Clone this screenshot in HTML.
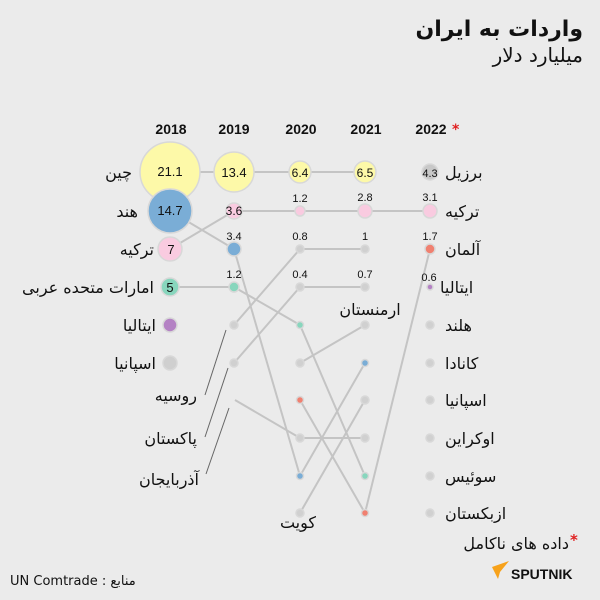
<!DOCTYPE html>
<html><head><meta charset="utf-8"><style>
html,body{margin:0;padding:0;background:#ebebeb}
svg{display:block}
text{font-family:"DejaVu Sans","Liberation Sans",sans-serif;fill:#111}
.yr{font-family:"Liberation Sans",sans-serif;font-weight:bold;font-size:14px;text-anchor:middle}
.v{font-family:"Liberation Sans",sans-serif;font-size:11px;text-anchor:middle}
.l{font-size:16px}
</style></head><body>
<svg width="600" height="600" viewBox="0 0 600 600">
<rect width="600" height="600" fill="#ebebeb"/>
<text x="583" y="36" text-anchor="end" font-size="22" font-weight="bold">واردات به ایران</text>
<text x="583" y="62" text-anchor="end" font-size="20">میلیارد دلار</text>
<text x="171" y="134" class="yr">2018</text><text x="234" y="134" class="yr">2019</text><text x="301" y="134" class="yr">2020</text><text x="366" y="134" class="yr">2021</text><text x="431" y="134" class="yr">2022</text>
<text x="452" y="134" style="fill:#e02020;font-size:14px;font-weight:bold">*</text>
<g stroke="#c4c4c4" stroke-width="2" fill="none">
<polyline points="170,172 234,172 300,172 365,172"/>
<polyline points="170,249 234,211 300,211 365,211 430,211"/>
<polyline points="170,211 234,249 300,476 365,363"/>
<polyline points="170,287 234,287 300,325 365,476"/>
<polyline points="234,325 300,249 365,249"/>
<polyline points="234,363 300,287 365,287"/>
<polyline points="235,400 300,438 365,438"/>
<polyline points="300,363 365,325"/>
<polyline points="300,513 365,400"/>
<polyline points="300,400 365,513 430,249"/>
</g>
<g stroke="#666" stroke-width="1">
<line x1="226" y1="330" x2="205" y2="395"/>
<line x1="228" y1="368" x2="205" y2="437"/>
<line x1="229" y1="408" x2="206" y2="474"/>
</g>
<g stroke="#d8d8d8" stroke-width="1.5">
<circle cx="170" cy="172" r="30" fill="#fdf9a8"/>
<circle cx="170" cy="211" r="22" fill="#7aadd6"/>
<circle cx="170" cy="249" r="12" fill="#f9cbe0"/>
<circle cx="170" cy="287" r="9" fill="#88d6bd"/>
<circle cx="170" cy="325" r="7" fill="#b482c4"/>
<circle cx="170" cy="363" r="7" fill="#cfcfcf"/>
<circle cx="234" cy="172" r="20" fill="#fdf9a8"/>
<circle cx="234" cy="211" r="8" fill="#f9cbe0"/>
<circle cx="234" cy="249" r="7" fill="#7aadd6"/>
<circle cx="234" cy="287" r="5" fill="#88d6bd"/>
<circle cx="234" cy="325" r="4" fill="#d0d0d0"/>
<circle cx="234" cy="363" r="4" fill="#d0d0d0"/>
<circle cx="300" cy="172" r="11" fill="#fdf9a8"/>
<circle cx="300" cy="211" r="5" fill="#f9cbe0"/>
<circle cx="300" cy="249" r="4" fill="#d0d0d0"/>
<circle cx="300" cy="287" r="4" fill="#d0d0d0"/>
<circle cx="300" cy="325" r="3.5" fill="#88d6bd"/>
<circle cx="300" cy="363" r="4" fill="#d0d0d0"/>
<circle cx="300" cy="400" r="3.5" fill="#f08070"/>
<circle cx="300" cy="438" r="4" fill="#d0d0d0"/>
<circle cx="300" cy="476" r="3.5" fill="#7aadd6"/>
<circle cx="300" cy="513" r="4" fill="#d0d0d0"/>
<circle cx="365" cy="172" r="11" fill="#fdf9a8"/>
<circle cx="365" cy="211" r="7" fill="#f9cbe0"/>
<circle cx="365" cy="249" r="4" fill="#d0d0d0"/>
<circle cx="365" cy="287" r="4" fill="#d0d0d0"/>
<circle cx="365" cy="325" r="4" fill="#d0d0d0"/>
<circle cx="365" cy="363" r="3.5" fill="#7aadd6"/>
<circle cx="365" cy="400" r="4" fill="#d0d0d0"/>
<circle cx="365" cy="438" r="4" fill="#d0d0d0"/>
<circle cx="365" cy="476" r="3.5" fill="#88d6bd"/>
<circle cx="365" cy="513" r="3.5" fill="#f08070"/>
<circle cx="430" cy="172" r="8" fill="#c8c8c8"/>
<circle cx="430" cy="211" r="7" fill="#f9cbe0"/>
<circle cx="430" cy="249" r="5" fill="#f08070"/>
<circle cx="430" cy="287" r="3" fill="#b482c4"/>
<circle cx="430" cy="325" r="4" fill="#d0d0d0"/>
<circle cx="430" cy="363" r="4" fill="#d0d0d0"/>
<circle cx="430" cy="400" r="4" fill="#d0d0d0"/>
<circle cx="430" cy="438" r="4" fill="#d0d0d0"/>
<circle cx="430" cy="476" r="4" fill="#d0d0d0"/>
<circle cx="430" cy="513" r="4" fill="#d0d0d0"/>
</g>
<g>
<text class="v" x="170" y="176" style="font-size:13px">21.1</text>
<text class="v" x="170" y="215" style="font-size:13px">14.7</text>
<text class="v" x="171" y="254" style="font-size:13px">7</text>
<text class="v" x="170" y="292" style="font-size:13px">5</text>
<text class="v" x="234" y="177" style="font-size:13px">13.4</text>
<text class="v" x="234" y="215" style="font-size:12px">3.6</text>
<text class="v" x="300" y="177" style="font-size:12px">6.4</text>
<text class="v" x="365" y="177" style="font-size:12px">6.5</text>
<text class="v" x="430" y="177" style="font-size:11px">4.3</text>
<text class="v" x="234" y="240">3.4</text>
<text class="v" x="234" y="278">1.2</text>
<text class="v" x="300" y="202">1.2</text>
<text class="v" x="300" y="240">0.8</text>
<text class="v" x="300" y="278">0.4</text>
<text class="v" x="365" y="201">2.8</text>
<text class="v" x="365" y="240">1</text>
<text class="v" x="365" y="278">0.7</text>
<text class="v" x="430" y="201">3.1</text>
<text class="v" x="430" y="240">1.7</text>
<text class="v" x="429" y="281">0.6</text>
</g>
<g>
<text class="l" x="132" y="178" text-anchor="end">چین</text>
<text class="l" x="138" y="217" text-anchor="end">هند</text>
<text class="l" x="154" y="255" text-anchor="end">ترکیه</text>
<text class="l" x="154" y="293" text-anchor="end">امارات متحده عربی</text>
<text class="l" x="156" y="331" text-anchor="end">ایتالیا</text>
<text class="l" x="156" y="369" text-anchor="end">اسپانیا</text>
<text class="l" x="197" y="401" text-anchor="end">روسیه</text>
<text class="l" x="197" y="444" text-anchor="end">پاکستان</text>
<text class="l" x="199" y="485" text-anchor="end">آذربایجان</text>
<text class="l" x="298" y="528" text-anchor="middle">کویت</text>
<text class="l" x="370" y="315" text-anchor="middle">ارمنستان</text>
<text class="l" x="445" y="178">برزیل</text>
<text class="l" x="445" y="217">ترکیه</text>
<text class="l" x="445" y="255">آلمان</text>
<text class="l" x="440" y="293">ایتالیا</text>
<text class="l" x="445" y="331">هلند</text>
<text class="l" x="445" y="369">کانادا</text>
<text class="l" x="445" y="406">اسپانیا</text>
<text class="l" x="445" y="444">اوکراین</text>
<text class="l" x="445" y="482">سوئیس</text>
<text class="l" x="445" y="519">ازبکستان</text>
<text class="l" x="569" y="549" text-anchor="end">داده های ناکامل</text>
</g>
<text x="570" y="545" style="fill:#e02020;font-size:15px;font-weight:bold">*</text>
<text x="10" y="585" style="font-size:13px">UN Comtrade : منابع</text>
<polygon points="492,567 509,561 500,572 498,579" fill="#f7a21b"/>
<text x="511" y="579" style="font-family:'Liberation Sans',sans-serif;font-weight:bold;font-size:14px">SPUTNIK</text>
</svg>
</body></html>
